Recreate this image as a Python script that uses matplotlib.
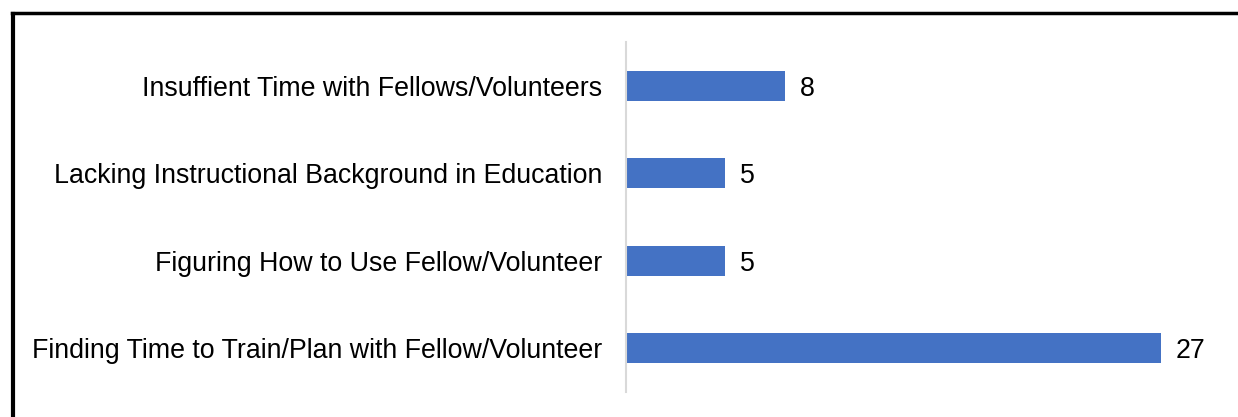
import matplotlib.pyplot as plt
from matplotlib.lines import Line2D

# data, bottom to top
categories = [
    "Finding Time to Train/Plan with Fellow/Volunteer",
    "Figuring How to Use Fellow/Volunteer",
    "Lacking Instructional Background in Education",
    "Insuffient Time with Fellows/Volunteers",
]
counts = [27, 5, 5, 8]

plt.rcParams["font.family"] = ["Liberation Sans", "DejaVu Sans"]

fig = plt.figure(figsize=(12.38, 4.17), dpi=100)
ax = fig.add_axes([0.5057, 0.06, 0.48, 0.839])

bars = ax.barh(range(len(categories)), counts, height=0.34, color="#4472C4")
for b, v in zip(bars, counts):
    ax.text(b.get_width() + 0.75, b.get_y() + b.get_height() / 2, str(v),
            va="center_baseline", ha="left", fontsize=19.3)

ax.set_xlim(0, 30.0)
ax.set_ylim(-0.5, 3.5)
ax.set_yticks(range(len(categories)))
ax.set_yticklabels(categories, fontsize=19.3)
ax.tick_params(axis="y", length=0, pad=17)
ax.set_xticks([])
for s in ["top", "right", "bottom"]:
    ax.spines[s].set_visible(False)
ax.spines["left"].set_color("#D9D9D9")
ax.spines["left"].set_linewidth(1.5)

# black frame on left and top
fig.add_artist(Line2D([0.0105, 0.0105], [0, 0.966], transform=fig.transFigure, color="black", lw=3))
fig.add_artist(Line2D([0.0095, 1.0], [0.968, 0.968], transform=fig.transFigure, color="black", lw=2.5))

fig.savefig("out.png", dpi=100)
